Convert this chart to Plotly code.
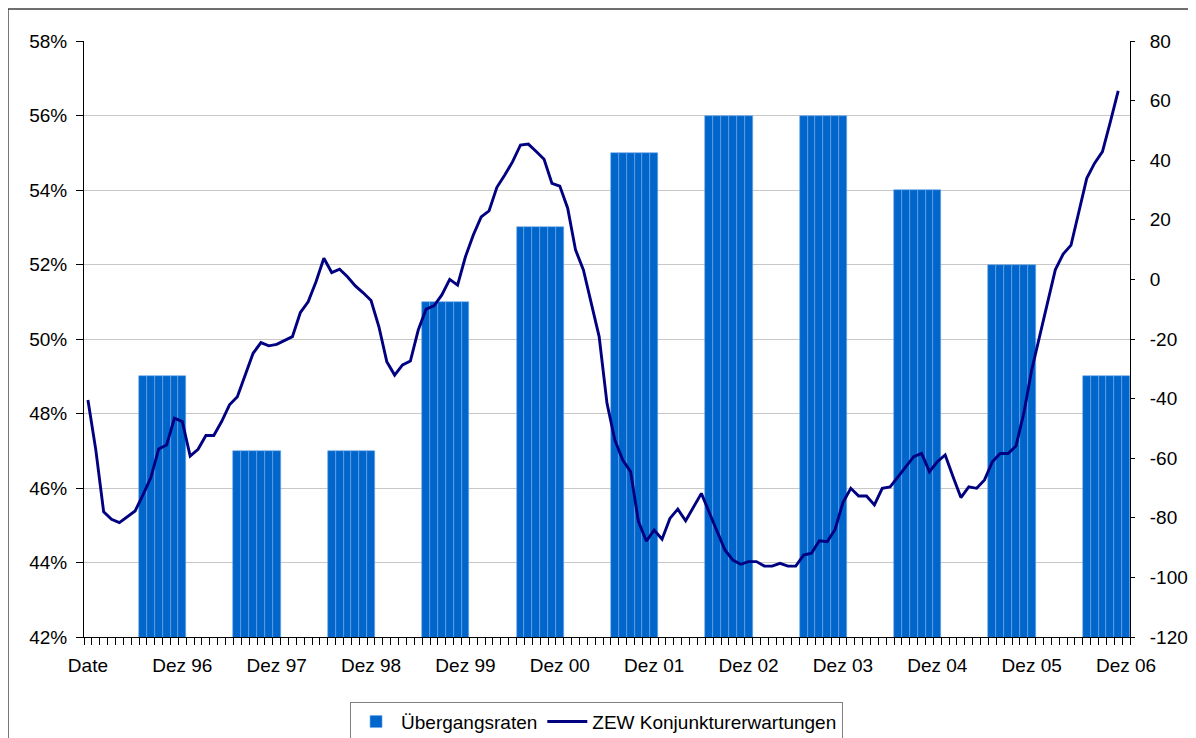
import plotly.graph_objects as go

# ---- data ----
month_names = ["Jan", "Feb", "Mrz", "Apr", "Mai", "Jun", "Jul", "Aug", "Sep", "Okt", "Nov", "Dez"]
categories = ["Dez 95"] + [f"{m} {y:02d}" for y in [96, 97, 98, 99, 0, 1, 2, 3, 4, 5, 6] for m in month_names]

tick_labels = ["Date", "Dez 96", "Dez 97", "Dez 98", "Dez 99", "Dez 00",
               "Dez 01", "Dez 02", "Dez 03", "Dez 04", "Dez 05", "Dez 06"]
tick_cats = ["Dez 95", "Dez 96", "Dez 97", "Dez 98", "Dez 99", "Dez 00",
             "Dez 01", "Dez 02", "Dez 03", "Dez 04", "Dez 05", "Dez 06"]

y2_tickvals = [-120, -100, -80, -60, -40, -20, 0, 20, 40, 60, 80]
y2_ticktext = ["-120", "-100", "-80", "-60", "-40", "-20", "0", "20", "40", "60", "80"]

# Übergangsraten per year (shown for Jul-Dez of each year)
rate_years = [96, 97, 98, 99, 0, 1, 2, 3, 4, 5, 6]
rate_values = [0.49, 0.47, 0.47, 0.51, 0.53, 0.55, 0.56, 0.56, 0.54, 0.52, 0.49]
rate_months = ["Jul", "Aug", "Sep", "Okt", "Nov", "Dez"]

zew_values = [
    -40.5, -57.2, -78.0, -80.5, -81.6, -79.6, -77.7, -72.3, -66.5, -56.9, -55.6, -46.6,
    -47.7, -59.3, -57.0, -52.4, -52.4, -47.7, -42.1, -39.4, -32.1, -24.8, -21.2, -22.3,
    -21.8, -20.6, -19.2, -11.2, -7.5, -0.8, 7.1, 2.3, 3.4, 0.9, -2.2, -4.5,
    -7.1, -15.9, -27.6, -32.1, -28.7, -27.4, -17.0, -10.0, -8.9, -5.2, 0.0, -1.9,
    7.6, 14.9, 21.0, 23.0, 30.9, 35.0, 39.5, 45.1, 45.4, 42.9, 40.3, 32.2,
    31.3, 23.9, 9.9, 3.2, -8.0, -19.2, -41.6, -53.9, -60.6, -64.5, -81.3, -87.8,
    -84.1, -87.2, -80.2, -77.1, -81.0, -76.3, -71.8, -78.2, -84.6, -90.8, -94.2, -95.6,
    -94.7, -94.7, -96.2, -96.2, -95.3, -96.2, -96.2, -92.5, -91.9, -87.7, -88.0, -83.9,
    -74.9, -70.1, -72.7, -72.7, -75.7, -70.1, -69.6, -66.2, -62.5, -59.5, -58.4, -64.5,
    -61.2, -58.9, -66.2, -73.2, -69.6, -70.1, -67.3, -61.2, -58.4, -58.4, -55.9, -44.9,
    -30.4, -19.2, -8.6, 3.2, 8.5, 11.5, 22.7, 33.9, 39.0, 42.9, 52.9, 63.3,
    None,
]

# ---- build bar series from per-year rates ----
rate_map = {}
for y, v in zip(rate_years, rate_values):
    for m in rate_months:
        rate_map[f"{m} {y:02d}"] = v
bar_values = [rate_map.get(c) for c in categories]

FONT = "Liberation Sans, Arial, sans-serif"

fig = go.Figure()
fig.add_trace(go.Bar(
    x=categories, y=bar_values, name="Übergangsraten",
    marker=dict(color="#0066CC", line=dict(color="#6FA8E8", width=0.6)),
    yaxis="y",
))
fig.add_trace(go.Scatter(
    x=categories, y=zew_values, name="ZEW Konjunkturerwartungen",
    mode="lines", line=dict(color="#000080", width=2.9),
    yaxis="y2", connectgaps=False,
))

ticktext = [tick_labels[tick_cats.index(c)] if c in tick_cats else "" for c in categories]

fig.update_layout(
    width=1196, height=738,
    margin=dict(l=76, r=74, t=33, b=109, autoexpand=False),
    paper_bgcolor="white", plot_bgcolor="white",
    font=dict(family=FONT, size=19, color="black"),
    bargap=0,
    showlegend=True,
    legend=dict(
        orientation="h", xref="paper", x=0.49, xanchor="center",
        yref="container", y=0.0600, yanchor="top",
        bordercolor="#808080", borderwidth=1, bgcolor="white",
        font=dict(family=FONT, size=19, color="black"),
        itemwidth=40, tracegroupgap=0,
    ),
    xaxis=dict(
        type="category", categoryorder="array", categoryarray=categories,
        tickmode="array", tickvals=categories, ticktext=ticktext,
        tickson="boundaries", ticks="outside", ticklen=7, tickcolor="black",
        showline=True, linecolor="black", linewidth=1,
        showgrid=False, tickangle=0, range=[-0.5, len(categories) - 0.5],
        ticklabelstandoff=11, automargin=False,
    ),
    yaxis=dict(
        range=[0.42, 0.58], dtick=0.02, tick0=0.42, tickformat=".0%",
        showline=True, linecolor="black", linewidth=1,
        ticks="outside", ticklen=7, tickcolor="black",
        showgrid=True, gridcolor="#C8C8C8", gridwidth=1,
        zeroline=False, ticklabelstandoff=5, automargin=False,
    ),
    yaxis2=dict(
        range=[-120, 80], tickmode="array", tickvals=y2_tickvals, ticktext=y2_ticktext,
        overlaying="y", side="right",
        showline=True, linecolor="black", linewidth=1,
        ticks="outside", ticklen=4, tickcolor="black",
        showgrid=False, zeroline=False, ticklabelstandoff=11, automargin=False,
    ),
    shapes=[dict(
        type="rect", xref="paper", yref="paper",
        x0=-0.0727, x1=1.2, y0=-0.4, y1=1.0537,
        line=dict(color="#404040", width=1.5), fillcolor="rgba(0,0,0,0)", layer="below",
    )],
)

fig.write_html("out.html")
